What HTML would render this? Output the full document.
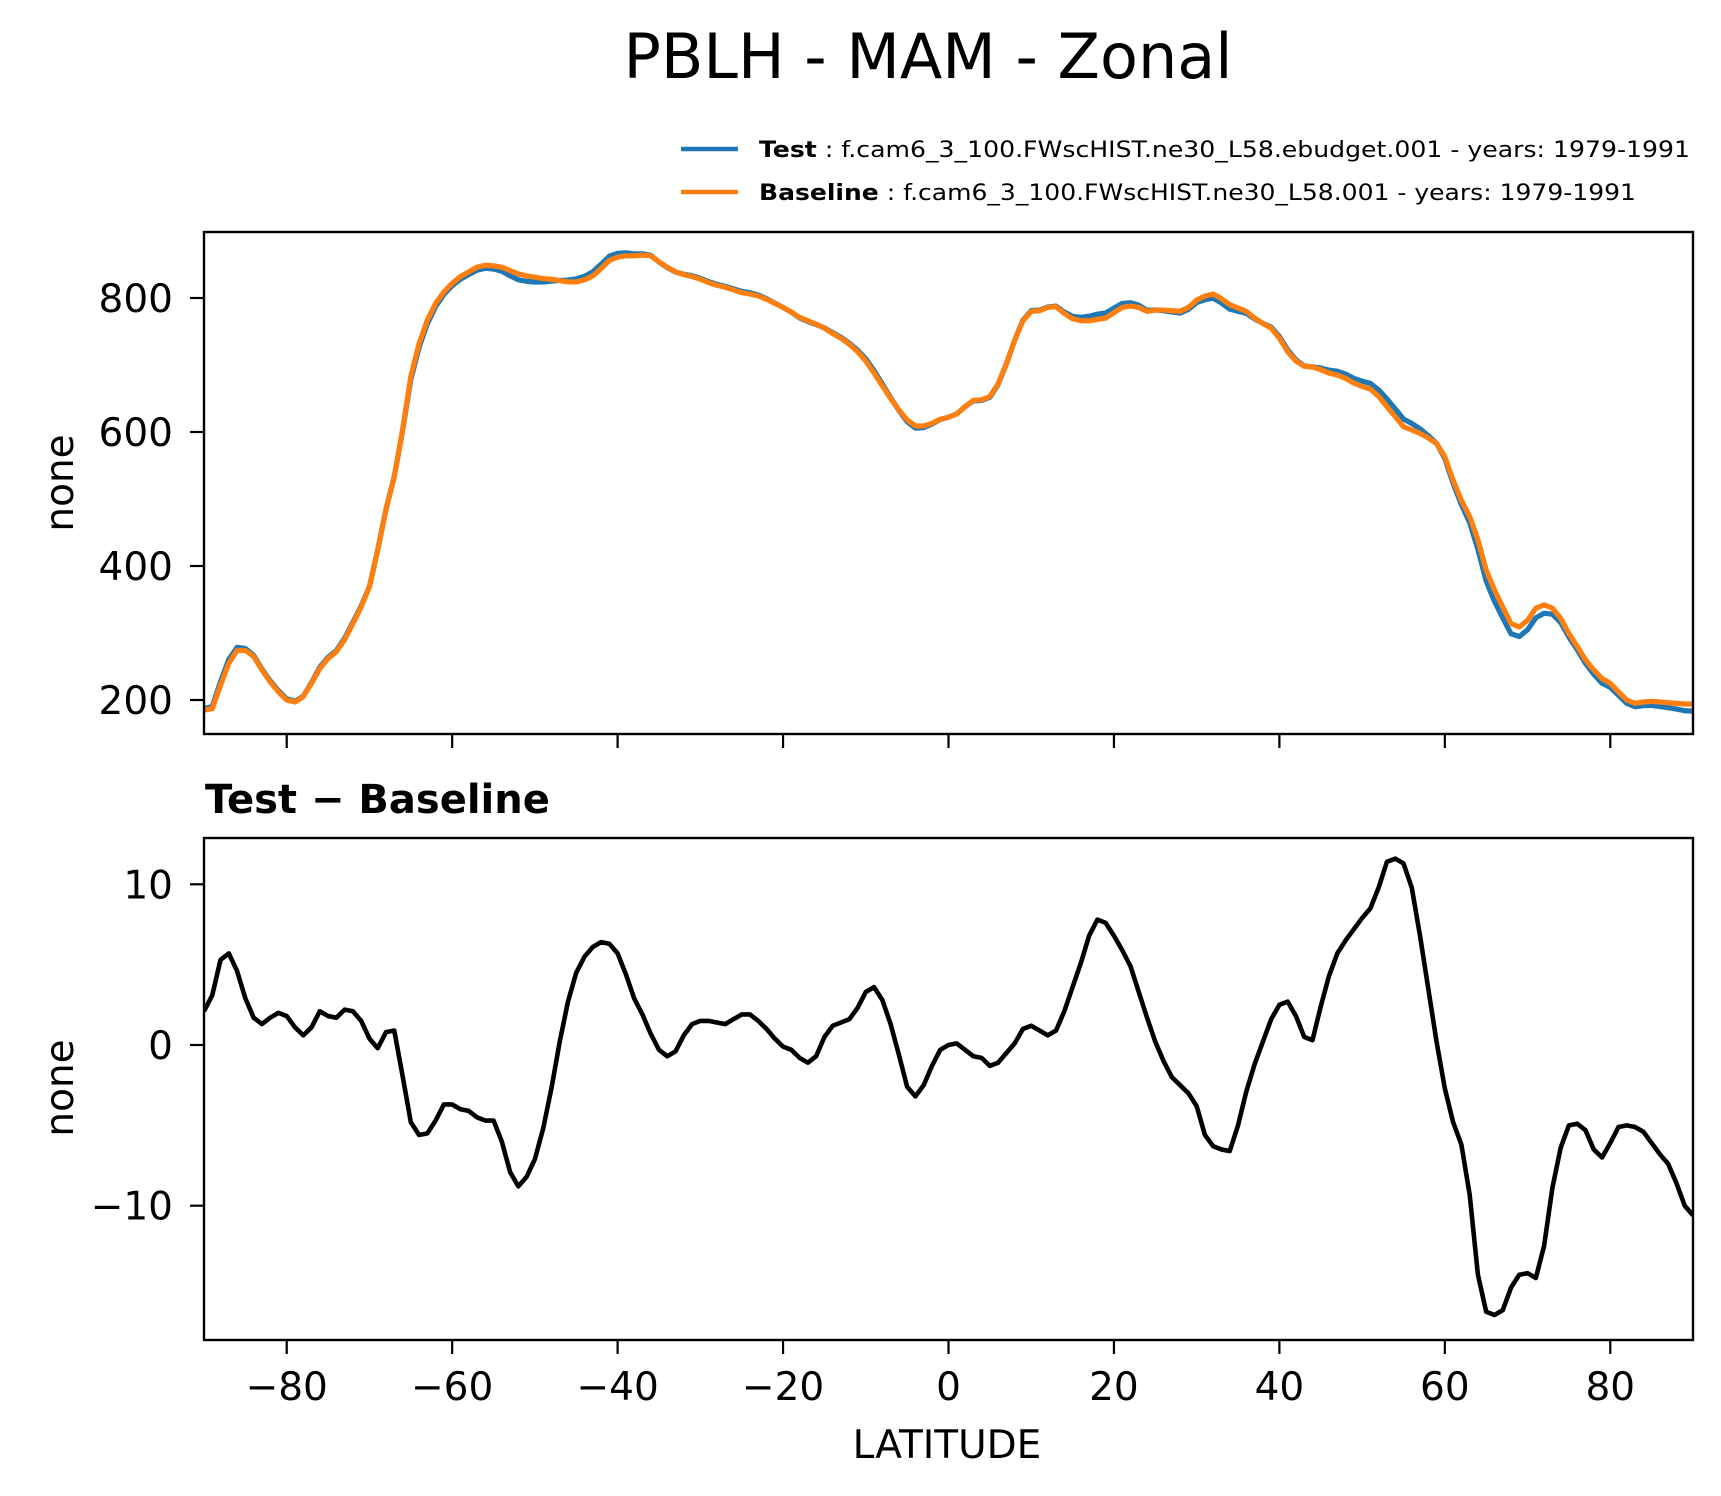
<!DOCTYPE html>
<html><head><meta charset="utf-8"><style>
html,body{margin:0;padding:0;background:#fff}
svg{display:block;font-family:"DejaVu Sans","Liberation Sans",sans-serif}
</style></head><body>
<svg id="chart" width="1721" height="1496" viewBox="0 0 1721 1496" xmlns="http://www.w3.org/2000/svg">
<defs>
<clipPath id="clipTop"><rect x="204" y="232" width="1489" height="502"/></clipPath>
<clipPath id="clipBot"><rect x="204" y="838" width="1489" height="500"/></clipPath>
</defs>
<rect width="1721" height="1496" fill="#fff"/>
<text x="928" y="78" font-size="62" text-anchor="middle">PBLH - MAM - Zonal</text>
<g>
<g>
<line x1="681" y1="149" x2="738" y2="149" stroke="#1f77b4" stroke-width="4.5"/>
<text x="759" y="157" font-size="22" textLength="931" lengthAdjust="spacingAndGlyphs"><tspan font-weight="bold">Test</tspan> : f.cam6_3_100.FWscHIST.ne30_L58.ebudget.001 - years: 1979-1991</text>
</g>
<g>
<line x1="681" y1="192" x2="738" y2="192" stroke="#ff7f0e" stroke-width="4.5"/>
<text x="759" y="200" font-size="22" textLength="877" lengthAdjust="spacingAndGlyphs"><tspan font-weight="bold">Baseline</tspan> : f.cam6_3_100.FWscHIST.ne30_L58.001 - years: 1979-1991</text>
</g>
</g>
<g id="topAxes"></g>
<text x="205" y="813" font-size="40" font-weight="bold">Test − Baseline</text>
<g id="botAxes"></g>
<text x="947" y="1458" font-size="39" text-anchor="middle">LATITUDE</text>
<text transform="translate(73,483) rotate(-90)" font-size="39" text-anchor="middle">none</text>
<text transform="translate(73,1088) rotate(-90)" font-size="39" text-anchor="middle">none</text>
</svg>
<script>
const latStart = -90;
const baseline = [
185,187,222,255,274,274,265,245,227,212,
200,197,205,225,247,262,272,290,314,339,
369,424,484,533,603,683,732,767,792,809,
822,832,839,846,849,848,846,841,836,833,
831,829,828,826,824,824,827,833,844,856,
861,863,863,864,863,854,846,839,835,832,
828,823,819,816,812,808,806,803,798,792,
786,779,771,766,761,755,747,740,731,720,
706,688,669,650,633,618,609,609,613,619,
622,627,638,647,648,653,672,702,737,766,
780,781,786,787,777,769,766,766,768,770,
778,786,788,786,780,782,782,781,780,786,
797,803,806,799,790,785,780,770,762,755,
740,720,706,698,697,693,688,685,680,673,
668,664,653,638,623,608,603,598,591,583,
563,528,498,474,439,394,364,339,314,309,
319,337,342,337,322,299,280,260,245,232,
225,212,200,195,197,198,197,196,195,194,194];
const test = [
187.1,190.1,227.3,260.7,278.6,276.9,266.7,246.3,228.7,214.0,
201.8,198.1,205.6,226.1,249.1,263.8,273.7,292.2,316.1,340.5,
369.4,423.8,484.8,533.9,601.1,678.2,726.4,761.5,787.3,805.3,
818.3,828.0,834.9,841.5,844.3,843.3,840.0,833.1,827.2,824.8,
823.9,823.8,825.3,826.2,826.7,828.5,832.5,839.1,850.4,862.3,
866.7,867.4,865.9,865.9,863.7,853.7,845.3,838.6,835.6,833.3,
829.5,824.5,820.4,817.3,813.6,809.9,807.9,804.5,799.0,792.4,
785.9,778.7,770.2,764.9,760.3,755.5,748.2,741.4,732.6,722.3,
709.3,691.6,671.8,651.3,632.4,615.4,605.8,606.5,611.7,618.7,
622.0,627.1,637.7,646.3,647.2,651.7,670.9,701.5,737.1,767.0,
781.2,781.9,786.6,787.9,779.1,772.6,771.1,772.8,775.8,777.6,
784.8,791.9,792.9,789.3,781.7,782.2,781.0,779.0,777.5,783.0,
793.2,797.4,799.7,792.5,783.4,780.0,777.1,768.8,762.2,756.6,
742.5,722.7,707.8,698.5,697.3,695.4,692.3,690.7,686.5,680.2,
675.9,672.5,662.8,649.4,634.6,619.3,612.8,604.8,594.5,583.2,
560.3,523.2,491.8,464.7,424.7,377.4,347.2,322.5,298.9,294.7,
304.8,322.5,329.5,328.1,315.6,294.0,275.1,254.7,238.5,225.0,
218.9,206.9,195.0,189.9,191.6,191.9,190.2,188.6,186.4,184.0,183.4];
const diff = [
2.1,3.1,5.3,5.7,4.6,2.9,1.7,1.3,1.7,2.0,
1.8,1.1,0.6,1.1,2.1,1.8,1.7,2.2,2.1,1.5,
0.4,-0.2,0.8,0.9,-1.9,-4.8,-5.6,-5.5,-4.7,-3.7,
-3.7,-4.0,-4.1,-4.5,-4.7,-4.7,-6.0,-7.9,-8.8,-8.2,
-7.1,-5.2,-2.7,0.2,2.7,4.5,5.5,6.1,6.4,6.3,
5.7,4.4,2.9,1.9,0.7,-0.3,-0.7,-0.4,0.6,1.3,
1.5,1.5,1.4,1.3,1.6,1.9,1.9,1.5,1.0,0.4,
-0.1,-0.3,-0.8,-1.1,-0.7,0.5,1.2,1.4,1.6,2.3,
3.3,3.6,2.8,1.3,-0.6,-2.6,-3.2,-2.5,-1.3,-0.3,
0.0,0.1,-0.3,-0.7,-0.8,-1.3,-1.1,-0.5,0.1,1.0,
1.2,0.9,0.6,0.9,2.1,3.6,5.1,6.8,7.8,7.6,
6.8,5.9,4.9,3.3,1.7,0.2,-1.0,-2.0,-2.5,-3.0,
-3.8,-5.6,-6.3,-6.5,-6.6,-5.0,-2.9,-1.2,0.2,1.6,
2.5,2.7,1.8,0.5,0.3,2.4,4.3,5.7,6.5,7.2,
7.9,8.5,9.8,11.4,11.6,11.3,9.8,6.8,3.5,0.2,
-2.7,-4.8,-6.2,-9.3,-14.3,-16.6,-16.8,-16.5,-15.1,-14.3,
-14.2,-14.5,-12.5,-8.9,-6.4,-5.0,-4.9,-5.3,-6.5,-7.0,
-6.1,-5.1,-5.0,-5.1,-5.4,-6.1,-6.8,-7.4,-8.6,-10.0,-10.6];
const xTicks = [-80,-60,-40,-20,0,20,40,60,80];
const topYTicks = [200,400,600,800];
const botYTicks = [-10,0,10];

const NS = 'http://www.w3.org/2000/svg';
const X0 = 204, X1 = 1693;
function xScale(lat){ return X0 + (lat + 90) / 180 * (X1 - X0); }
function yTop(v){ return 298 - (v - 800) * 0.67; }
function yBot(v){ return 1045 - v * 16.07; }
function fmt(t){ return t < 0 ? '\u2212' + Math.abs(t) : String(t); }
function mk(tag, attrs, parent){
  const e = document.createElementNS(NS, tag);
  for (const k in attrs) e.setAttribute(k, attrs[k]);
  parent.appendChild(e);
  return e;
}
function linePath(vals, ys){
  let d = '';
  vals.forEach((v, i) => { const lat = latStart + i; d += (i ? 'L' : 'M') + xScale(lat).toFixed(2) + ',' + ys(v).toFixed(2); });
  return d;
}
function drawAxes(g, top, bot, yTicks, ys, prefix, showXLabels){
  for (const t of yTicks){
    const y = ys(t);
    const tk = mk('line', {x1: X0 - 14, x2: X0, y1: y, y2: y, stroke: '#000', 'stroke-width': 2.2}, g);
    
    
    const lb = mk('text', {x: X0 - 31, y: y + 14, 'font-size': 39, 'text-anchor': 'end'}, g);
    lb.textContent = fmt(t);
    
    
  }
  for (const t of xTicks){
    const x = xScale(t);
    const tk = mk('line', {x1: x, x2: x, y1: bot, y2: bot + 14, stroke: '#000', 'stroke-width': 2.2}, g);
    
    
    if (showXLabels){
      const lb = mk('text', {x: x, y: bot + 60, 'font-size': 39, 'text-anchor': 'middle'}, g);
      lb.textContent = fmt(t);
      
      
    }
  }
}
const gt = document.getElementById('topAxes');
drawAxes(gt, 232, 734, topYTicks, yTop, 'top', false);
const pTest = mk('path', {d: linePath(test, yTop), fill: 'none', stroke: '#1f77b4', 'stroke-width': 5.2, 'stroke-linejoin': 'round', 'clip-path': 'url(#clipTop)'}, gt);


const pBase = mk('path', {d: linePath(baseline, yTop), fill: 'none', stroke: '#ff7f0e', 'stroke-width': 5.2, 'stroke-linejoin': 'round', 'clip-path': 'url(#clipTop)'}, gt);


const ft = mk('rect', {x: X0, y: 232, width: X1 - X0, height: 502, fill: 'none', stroke: '#000', 'stroke-width': 2.4}, gt);



const gb = document.getElementById('botAxes');
drawAxes(gb, 838, 1340, botYTicks, yBot, 'bottom', true);
const pDiff = mk('path', {d: linePath(diff, yBot), fill: 'none', stroke: '#000', 'stroke-width': 4.6, 'stroke-linejoin': 'round', 'clip-path': 'url(#clipBot)'}, gb);


const fb = mk('rect', {x: X0, y: 838, width: X1 - X0, height: 502, fill: 'none', stroke: '#000', 'stroke-width': 2.4}, gb);


</script>
</body></html>
